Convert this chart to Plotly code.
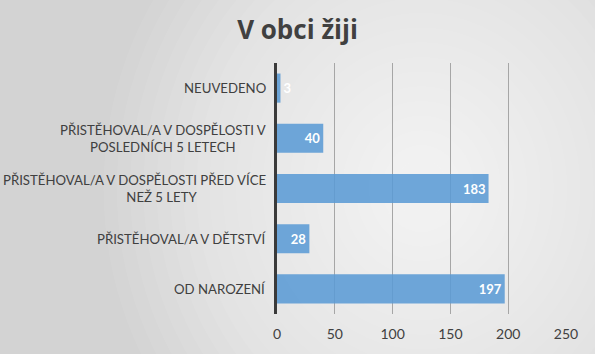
import plotly.graph_objects as go

categories = ["OD NAROZENÍ", "PŘISTĚHOVAL/A V DĚTSTVÍ",
              "PŘISTĚHOVAL/A V DOSPĚLOSTI PŘED VÍCE NEŽ 5 LETY",
              "PŘISTĚHOVAL/A V DOSPĚLOSTI V POSLEDNÍCH 5 LETECH",
              "NEUVEDENO"]
category_labels = ["OD NAROZENÍ", "PŘISTĚHOVAL/A V DĚTSTVÍ",
                   "PŘISTĚHOVAL/A V DOSPĚLOSTI PŘED VÍCE<br>" + "&nbsp;" * 16 + "NEŽ 5 LETY",
                   "PŘISTĚHOVAL/A V DOSPĚLOSTI V<br>POSLEDNÍCH 5 LETECH",
                   "NEUVEDENO"]
values = [197, 28, 183, 40, 3]
tick_vals = [0, 50, 100, 150, 200, 250]

fig = go.Figure()
fig.add_trace(go.Bar(
    y=categories, x=values, orientation="h",
    marker=dict(color="rgba(91,155,213,0.88)", line=dict(width=0)),
    width=0.58,
    text=[str(v) for v in values],
    textposition="auto",
    insidetextanchor="end",
    constraintext="none",
    textfont=dict(family="Lato, Open Sans, sans-serif", size=13, color="white", weight="bold"),
    outsidetextfont=dict(family="Lato, Open Sans, sans-serif", size=13, color="white", weight="bold"),
    cliponaxis=False,
))

annotations = []
for c, lab in zip(categories, category_labels):
    annotations.append(dict(x=0, xref="paper", xshift=-9, y=c, yref="y", text=lab,
                            showarrow=False, xanchor="right", yanchor="middle", align="center",
                            font=dict(family="Lato, Open Sans, sans-serif", size=13.2, color="#404040")))

# radial-like background
shapes = []
n = 24
for i in range(n):
    f = 1 - i / n
    shapes.append(dict(type="circle", xref="paper", yref="paper", layer="below",
                       x0=0.5 - 1.1 * f, x1=0.5 + 1.1 * f,
                       y0=0.5 - 1.4 * f, y1=0.5 + 1.4 * f,
                       fillcolor="rgba(255,255,255,0.065)", line=dict(width=0)))

fig.update_layout(
    width=595, height=354,
    margin=dict(l=277, r=29, t=63, b=38),
    paper_bgcolor="#d3d3d3",
    plot_bgcolor="rgba(0,0,0,0)",
    shapes=shapes,
    annotations=annotations,
    showlegend=False,
    title=dict(text="<b>V obci žiji</b>", x=0.5, xref="container", y=0.915, yanchor="middle",
               font=dict(family="Open Sans, Lato, sans-serif", size=26, color="#404040")),
    xaxis=dict(range=[0, 250], tickvals=tick_vals, showgrid=True,
               gridcolor="#a6a6a6", gridwidth=1, zeroline=False, showline=False,
               tickfont=dict(family="Lato, Open Sans, sans-serif", size=14, color="#404040"),
               ticks="", ticklabelstandoff=10, fixedrange=True),
    yaxis=dict(showline=True, linecolor="#3a3a3a", linewidth=2.5, ticks="",
               showticklabels=False, automargin=False),
    font=dict(family="Lato, Open Sans, sans-serif"),
)

fig.write_html("out.html")
